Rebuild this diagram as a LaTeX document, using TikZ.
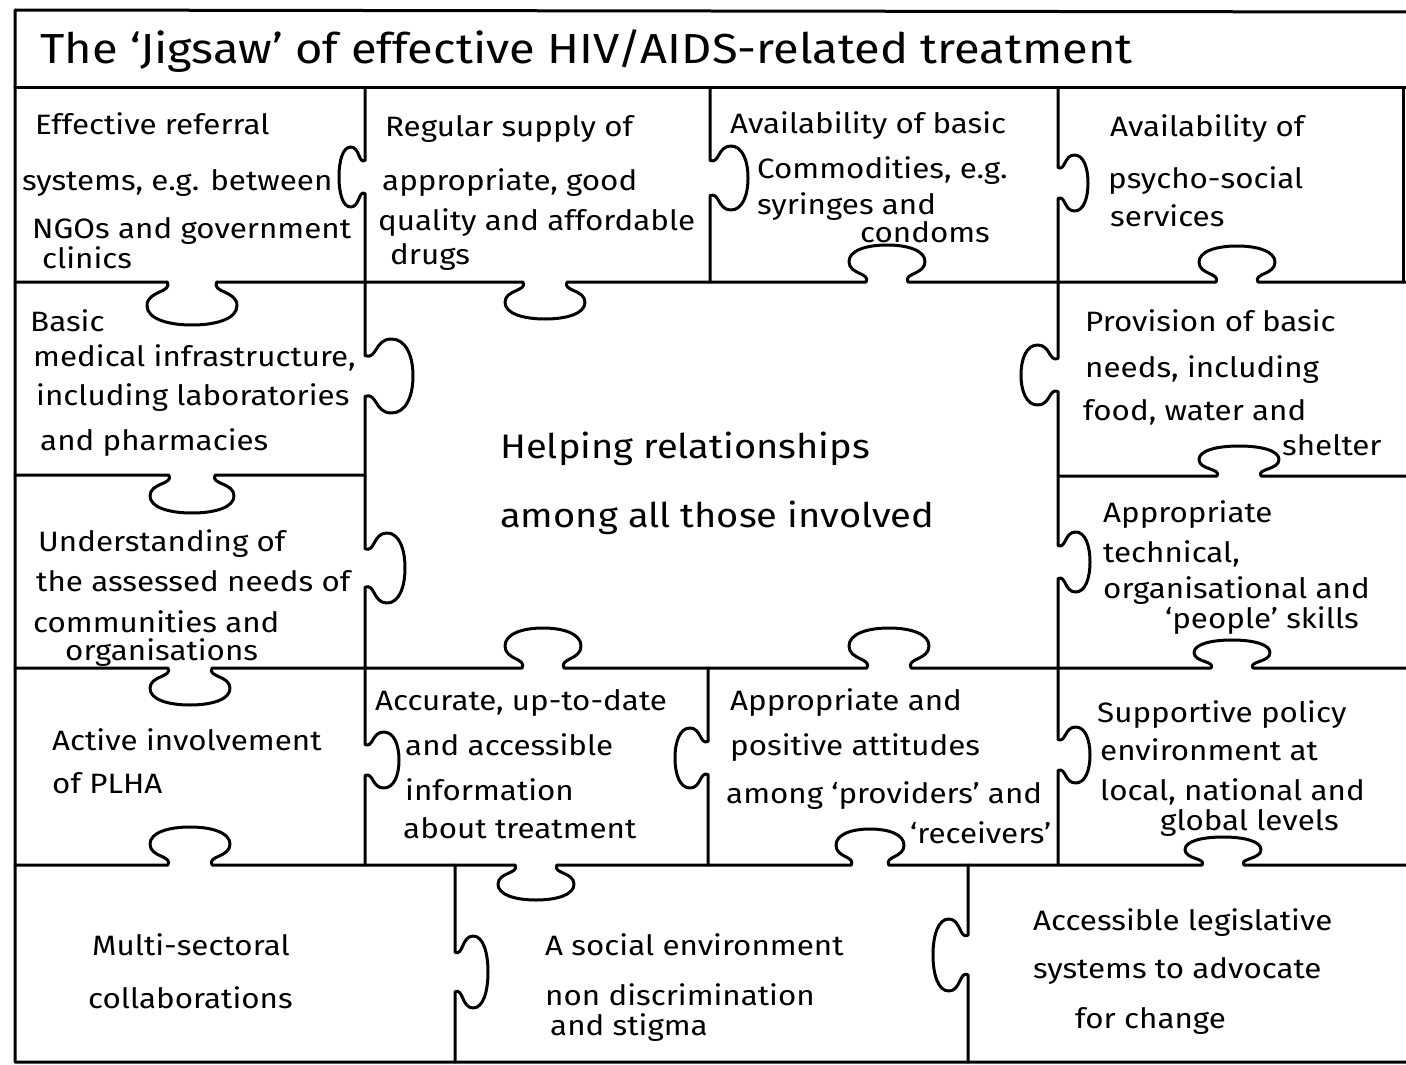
\documentclass[tikz,border=0pt]{standalone}
\usepackage{fontspec}
\setmainfont[FakeStretch=1.12]{Fira Sans}
\tikzset{
  edge/.style={line width=3pt, line join=round, line cap=round},
  cell/.style={font=\fontsize{28}{30}\selectfont, inner sep=0pt, anchor=base west},
  bigcell/.style={font=\fontsize{34}{40}\selectfont, inner sep=0pt, anchor=base west},
  titlecell/.style={font=\fontsize{42}{44}\selectfont, inner sep=0pt, anchor=base west},
  hk/.style n args={4}{insert path={
    -- ({#1-0.55*#4},#2)
    .. controls ({#1-0.43*#4},{#2+0.25*#3}) and ({#1-#4},{#2+0.2*#3}) .. ({#1-#4},{#2+0.55*#3})
    .. controls ({#1-#4},{#2+0.85*#3}) and ({#1-0.55*#4},{#2+#3}) .. (#1,{#2+#3})
    .. controls ({#1+0.55*#4},{#2+#3}) and ({#1+#4},{#2+0.85*#3}) .. ({#1+#4},{#2+0.55*#3})
    .. controls ({#1+#4},{#2+0.2*#3}) and ({#1+0.43*#4},{#2+0.25*#3}) .. ({#1+0.55*#4},#2)
  }},
  vk/.style n args={4}{insert path={
    -- (#2,{#1-0.55*#4})
    .. controls ({#2+0.25*#3},{#1-0.43*#4}) and ({#2+0.2*#3},{#1-#4}) .. ({#2+0.55*#3},{#1-#4})
    .. controls ({#2+0.85*#3},{#1-#4}) and ({#2+#3},{#1-0.55*#4}) .. ({#2+#3},#1)
    .. controls ({#2+#3},{#1+0.55*#4}) and ({#2+0.85*#3},{#1+#4}) .. ({#2+0.55*#3},{#1+#4})
    .. controls ({#2+0.2*#3},{#1+#4}) and ({#2+0.25*#3},{#1+0.43*#4}) .. (#2,{#1+0.55*#4})
  }}
}
\newcommand{\jt}[4]{\node[cell] (#1) at (#2,#3) {#4};}
\begin{document}
\begin{tikzpicture}[x=1pt,y=-1pt]
\useasboundingbox (0,0) rectangle (1406,1065);
% outer frame
\draw[edge] (1406,12) -- (15,10) -- (15,1062) -- (1406,1062);
\draw[edge] (1403,88) -- (1403,282);
% title separator
\draw[edge] (15,88) -- (1406,88);
% horizontal edges
\draw[edge] (15,282) [hk={192}{282}{43}{45}] [hk={545}{282}{37}{40}] [hk={887}{282}{-37}{38}] [hk={1237}{282}{-36}{38}] -- (1406,282);
\draw[edge] (15,475) [hk={192}{475}{38}{42}] -- (365,475);
\draw[edge] (1058,476) [hk={1239}{476}{-30}{40}] -- (1406,476);
\draw[edge] (15,668) [hk={190}{668}{37}{40}] [hk={543}{668}{-40}{38}] [hk={889}{668}{-40}{40}] [hk={1232}{668}{-28}{38}] -- (1406,668);
\draw[edge] (15,865) [hk={190}{865}{-38}{40}] [hk={536}{865}{35}{38}] [hk={870}{865}{-36}{34}] [hk={1223}{865}{-28}{38}] -- (1406,865);
% vertical edges
\draw[edge] (365,88) [vk={177}{365}{-26}{30}] [vk={376}{365}{48}{37}] [vk={568}{365}{40}{35}] [vk={760}{365}{34}{28}] -- (365,865);
\draw[edge] (710,88) [vk={178}{710}{38}{32}] -- (710,282);
\draw[edge] (708,668) [vk={758}{708}{-33}{30}] -- (708,865);
\draw[edge] (1058,88) [vk={183}{1058}{30}{28}] [vk={375}{1058}{-37}{30}] [vk={562}{1058}{32}{30}] [vk={755}{1058}{32}{28}] -- (1058,865);
\draw[edge] (455,865) [vk={972}{455}{33}{36}] -- (455,1062);
\draw[edge] (968,865) [vk={955}{968}{-35}{36}] -- (968,1062);
% title
\node[titlecell] (title) at (40,64) {The `Jigsaw' of effective HIV/AIDS-related treatment};
% row 1
\jt{a1}{35}{134}{Effective referral}
\jt{a2}{22}{190}{systems, e.g. between}
\jt{a3}{32}{238}{NGOs and government}
\jt{a4}{42}{268}{clinics}
\jt{b1}{385}{136}{Regular supply of}
\jt{b2}{382}{190}{appropriate, good}
\jt{b3}{378}{230}{quality and affordable}
\jt{b4}{390}{264}{drugs}
\jt{c1}{730}{133}{Availability of basic}
\jt{c2}{757}{178}{Commodities, e.g.}
\jt{c3}{757}{214}{syringes and}
\jt{c4}{860}{242}{condoms}
\jt{d1}{1110}{136}{Availability of}
\jt{d2}{1108}{188}{psycho-social}
\jt{d3}{1110}{226}{services}
% left column
\jt{e1}{30}{331}{Basic}
\jt{e2}{33}{366}{medical infrastructure,}
\jt{e3}{36}{405}{including laboratories}
\jt{e4}{40}{450}{and pharmacies}
\jt{f1}{38}{551}{Understanding of}
\jt{f2}{36}{591}{the assessed needs of}
\jt{f3}{33}{632}{communities and}
\jt{f4}{65}{660}{organisations}
% right column
\jt{g1}{1085}{331}{Provision of basic}
\jt{g2}{1085}{377}{needs, including}
\jt{g3}{1083}{420}{food, water and}
\jt{g4}{1282}{455}{shelter}
\jt{h1}{1103}{522}{Appropriate}
\jt{h2}{1103}{562}{technical,}
\jt{h3}{1103}{598}{organisational and}
\jt{h4}{1165}{628}{`people' skills}
% centre
\node[bigcell] (m1) at (500,458) {Helping relationships};
\node[bigcell] (m2) at (500,527) {among all those involved};
% row 4
\jt{i1}{52}{750}{Active involvement}
\jt{i2}{52}{793}{of PLHA}
\jt{j1}{375}{710}{Accurate, up-to-date}
\jt{j2}{405}{755}{and accessible}
\jt{j3}{405}{800}{information}
\jt{j4}{403}{838}{about treatment}
\jt{k1}{730}{710}{Appropriate and}
\jt{k2}{730}{755}{positive attitudes}
\jt{k3}{726}{803}{among `providers' and}
\jt{k4}{910}{843}{`receivers'}
\jt{l1}{1097}{722}{Supportive policy}
\jt{l2}{1100}{760}{environment at}
\jt{l3}{1100}{800}{local, national and}
\jt{l4}{1160}{830}{global levels}
% row 5
\jt{n1}{92}{955}{Multi-sectoral}
\jt{n2}{88}{1008}{collaborations}
\jt{o1}{545}{955}{A social environment}
\jt{o2}{545}{1005}{non discrimination}
\jt{o3}{550}{1035}{and stigma}
\jt{p1}{1033}{930}{Accessible legislative}
\jt{p2}{1033}{978}{systems to advocate}
\jt{p3}{1075}{1028}{for change}
\end{tikzpicture}
\end{document}
